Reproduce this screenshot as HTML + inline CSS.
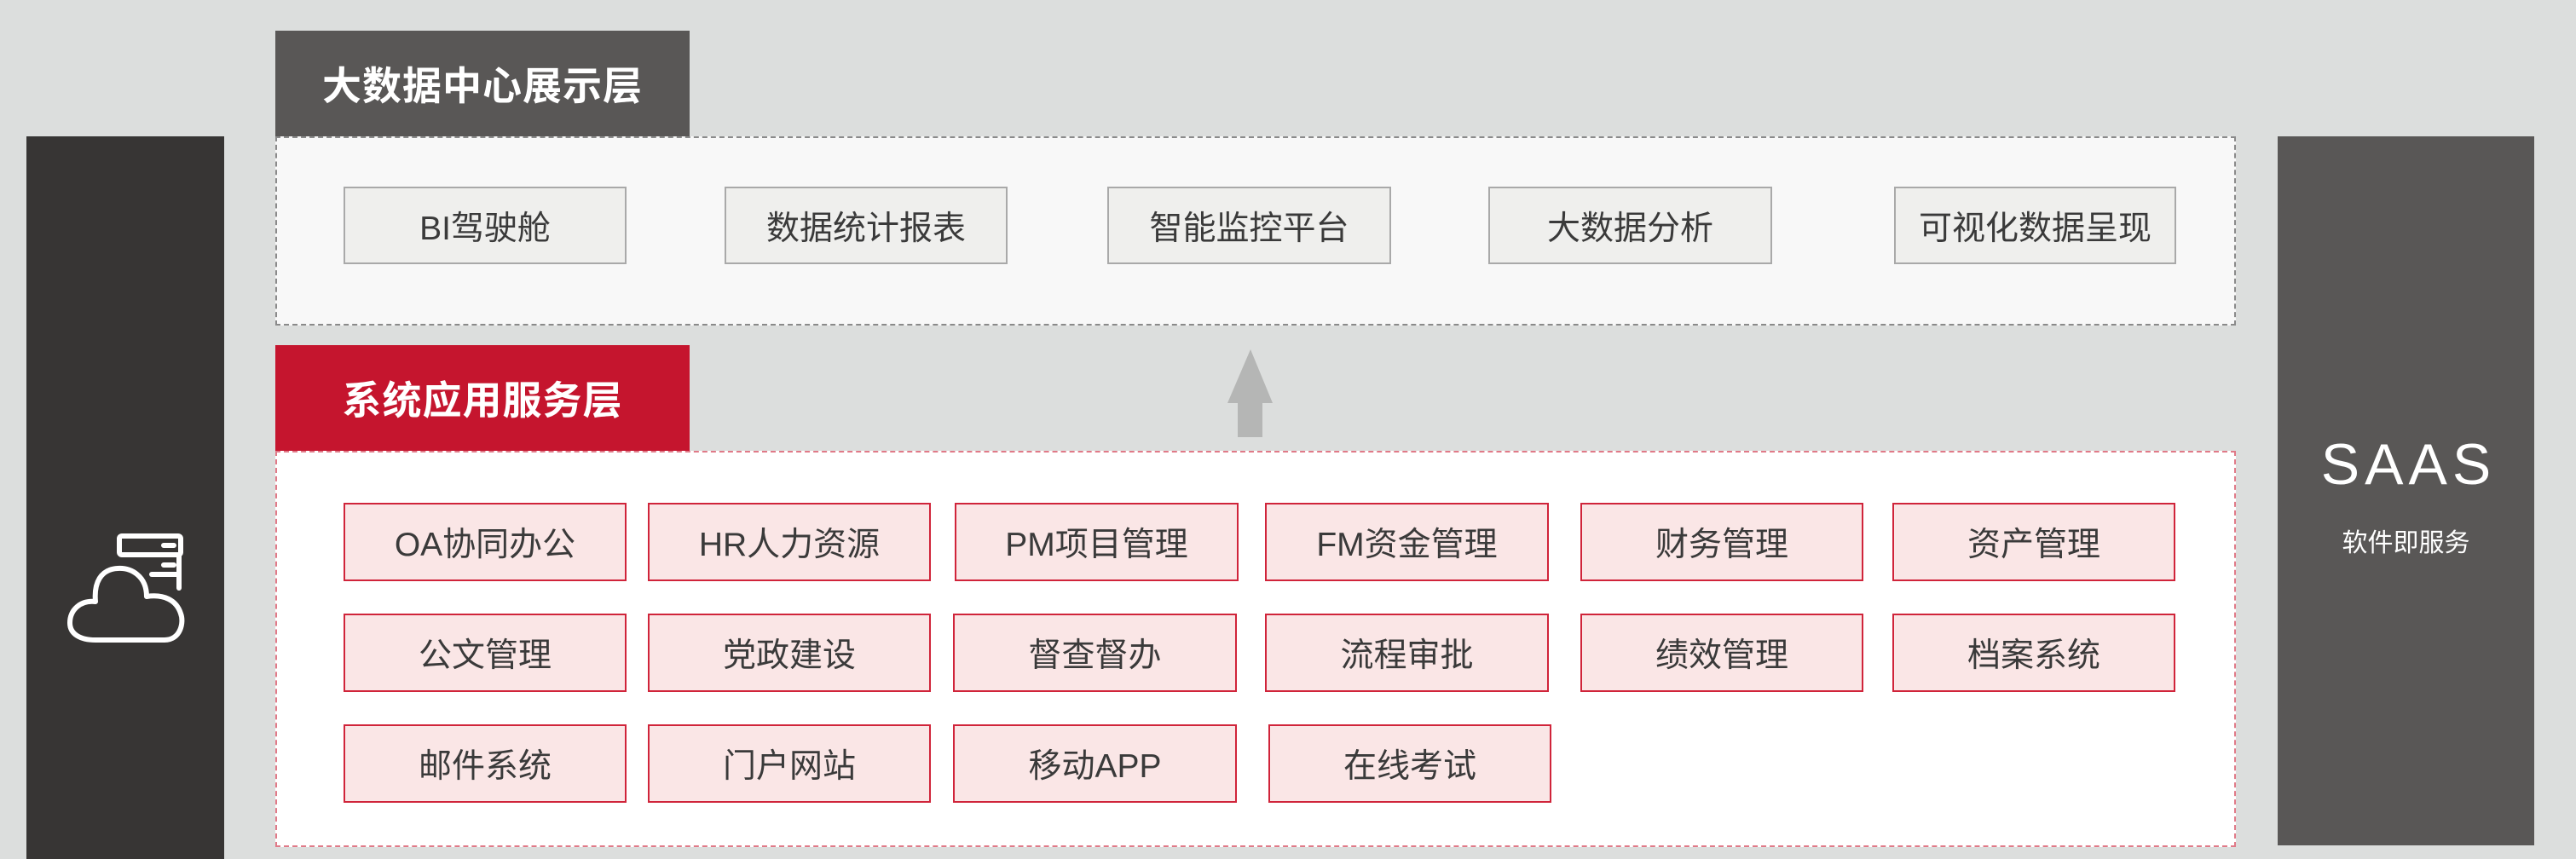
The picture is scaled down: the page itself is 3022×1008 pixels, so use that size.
<!DOCTYPE html>
<html><head><meta charset="utf-8"><style>
*{margin:0;padding:0;box-sizing:border-box}
body{width:3022px;height:1008px;background:#dcdedd;position:relative;overflow:hidden;font-family:"Liberation Sans","Noto Sans CJK SC",sans-serif}
.a{position:absolute}
.hd{position:absolute;color:#fff;font-weight:bold;font-size:46px;display:flex;align-items:center;justify-content:center;letter-spacing:1px}
.b{position:absolute;display:flex;align-items:center;justify-content:center;font-size:39px;color:#3a3a3a}
.g{background:#efefed;border:2px solid #a9a9a9}
.r{background:#fae6e6;border:2px solid #d0243a;height:92px}
</style></head><body>
<div class="a" style="left:31px;top:160px;width:232px;height:848px;background:#373534"></div>
<svg class="a" style="left:0;top:0" width="300" height="1008">
<g fill="none" stroke="#fff" stroke-width="6" stroke-linecap="round" stroke-linejoin="round">
<rect x="140" y="629" width="72" height="22" rx="3"/>
<path d="M210 651 V690"/>
<path d="M178 674 H208"/>
<path d="M192 640 H204 M192 663 H204"/>
<path d="M112 751 H193 C212 751 216 730 212 720 C207 704 192 697 172 700 C172 676 154 666 138 667 C118 668 110 684 112 706 C94 704 82 716 82 731 C82 744 94 751 112 751 Z"/>
</g></svg>
<div class="a" style="left:2672px;top:505px;width:301px;height:1px"></div>
<div class="a" style="left:2672px;top:160px;width:301px;height:832px;background:#595756"></div>
<div class="a" style="left:2675px;top:507px;width:301px;text-align:center;color:#fff;font-size:68px;letter-spacing:6px;line-height:76px">SAAS</div>
<div class="a" style="left:2672px;top:618px;width:301px;text-align:center;color:#fff;font-size:30px;line-height:40px">软件即服务</div>

<div class="hd" style="left:323px;top:36px;width:486px;height:124px;background:#595756">大数据中心展示层</div>
<div class="a" style="left:323px;top:160px;width:2300px;height:222px;background:#f8f8f8;border:2px dashed #8a8a8a"></div>
<div class="b g" style="left:403px;top:219px;width:332px;height:91px">BI驾驶舱</div>
<div class="b g" style="left:850px;top:219px;width:332px;height:91px">数据统计报表</div>
<div class="b g" style="left:1299px;top:219px;width:333px;height:91px">智能监控平台</div>
<div class="b g" style="left:1746px;top:219px;width:333px;height:91px">大数据分析</div>
<div class="b g" style="left:2222px;top:219px;width:331px;height:91px">可视化数据呈现</div>

<svg class="a" style="left:1430px;top:400px" width="80" height="120"><path d="M37 10 L63 73 H51 V113 H22 V73 H10 Z" fill="#b5b6b5"/></svg>

<div class="hd" style="left:323px;top:405px;width:486px;height:124px;background:#c5152e">系统应用服务层</div>
<div class="a" style="left:323px;top:529px;width:2300px;height:465px;background:#fff;border:2px dashed #e07a88"></div>

<div class="b r" style="left:403px;top:590px;width:332px">OA协同办公</div>
<div class="b r" style="left:760px;top:590px;width:332px">HR人力资源</div>
<div class="b r" style="left:1120px;top:590px;width:333px">PM项目管理</div>
<div class="b r" style="left:1484px;top:590px;width:333px">FM资金管理</div>
<div class="b r" style="left:1854px;top:590px;width:332px">财务管理</div>
<div class="b r" style="left:2220px;top:590px;width:332px">资产管理</div>

<div class="b r" style="left:403px;top:720px;width:332px">公文管理</div>
<div class="b r" style="left:760px;top:720px;width:332px">党政建设</div>
<div class="b r" style="left:1118px;top:720px;width:333px">督查督办</div>
<div class="b r" style="left:1484px;top:720px;width:333px">流程审批</div>
<div class="b r" style="left:1854px;top:720px;width:332px">绩效管理</div>
<div class="b r" style="left:2220px;top:720px;width:332px">档案系统</div>

<div class="b r" style="left:403px;top:850px;width:332px">邮件系统</div>
<div class="b r" style="left:760px;top:850px;width:332px">门户网站</div>
<div class="b r" style="left:1118px;top:850px;width:333px">移动APP</div>
<div class="b r" style="left:1488px;top:850px;width:332px">在线考试</div>
</body></html>
